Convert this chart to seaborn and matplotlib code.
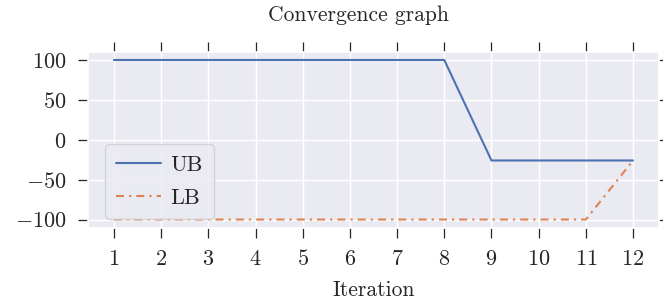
import matplotlib
matplotlib.use("Agg")
import matplotlib.pyplot as plt
import numpy as np
import pandas as pd
import seaborn as sns

iterations = [1, 2, 3, 4, 5, 6, 7, 8, 9, 10, 11, 12]
upper_bound = [100, 100, 100, 100, 100, 100, 100, 100, -26, -26, -26, -26]
lower_bound = [-100, -100, -100, -100, -100, -100, -100, -100, -100, -100, -100, -26]

sns.set_theme(style="darkgrid")
plt.rcParams["font.family"] = "serif"
plt.rcParams["font.serif"] = ["cmr10"]
plt.rcParams["mathtext.fontset"] = "cm"
plt.rcParams["axes.formatter.use_mathtext"] = True

df = pd.DataFrame({"Iteration": iterations, "UB": upper_bound, "LB": lower_bound})

fs = 15.5
fig = plt.figure(figsize=(6.63, 3.07), dpi=100)
ax = fig.add_axes([88 / 663, 1 - 227.5 / 307, (659 - 88) / 663, (227.5 - 52) / 307])

pal = sns.color_palette("deep")
sns.lineplot(data=df, x="Iteration", y="UB", ax=ax, color=pal[0], label="UB", linewidth=1.5)
sns.lineplot(data=df, x="Iteration", y="LB", ax=ax, color=pal[1], label="LB",
             linewidth=1.5, linestyle=(0, (3.85, 2.4, 1.1, 2.4)))

ax.set_xticks(iterations)
ax.set_yticks([-100, -50, 0, 50, 100])
ax.set_ylabel("")
ax.set_xlabel("Iteration", fontsize=fs, labelpad=8.5)
ax.set_title("Convergence graph", fontsize=fs, pad=22, x=0.473)
ax.tick_params(axis="both", which="both", direction="out", length=7.5, width=0.9,
               color="0.15", labelsize=16, pad=8, bottom=True, top=True, left=True,
               right=True, labeltop=False, labelright=False)

leg = ax.legend(loc="lower left", bbox_to_anchor=(0.03, 0.05), borderaxespad=0,
                fontsize=16, handlelength=2.0, handletextpad=0.45,
                labelspacing=0.6, borderpad=0.5)

fig.savefig("out.png", dpi=100)
